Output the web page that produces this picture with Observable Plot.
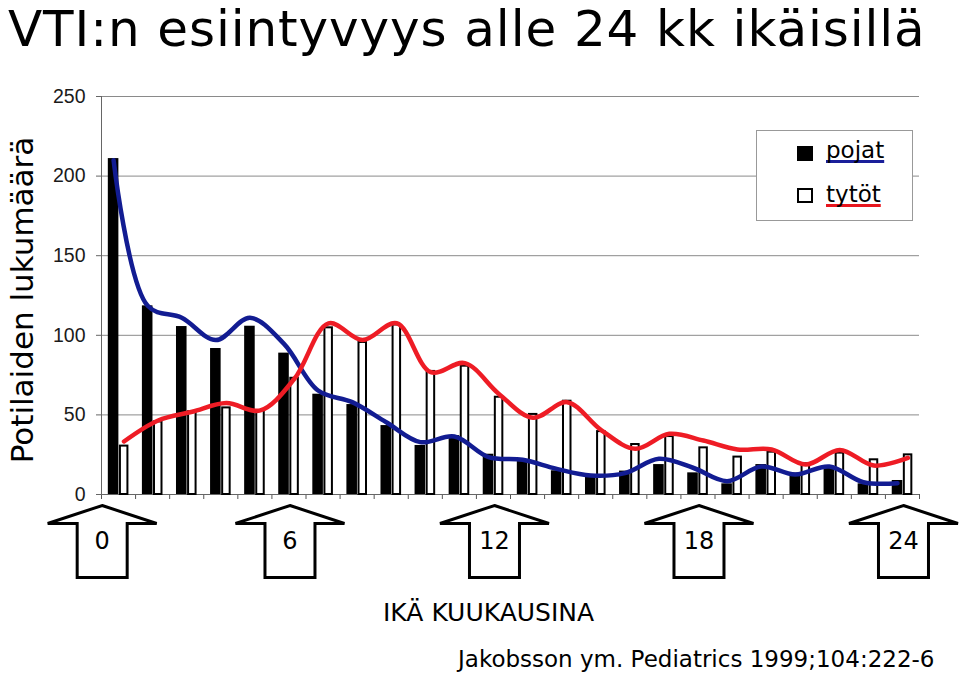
<!DOCTYPE html>
<html>
<head>
<meta charset="utf-8">
<script src="https://cdn.jsdelivr.net/npm/d3@7"></script>
<script src="https://cdn.jsdelivr.net/npm/@observablehq/plot@0.6"></script>
<style>
  body { margin: 0; background: #fff; }
  #wrap { position: relative; width: 959px; height: 675px; overflow: hidden; background: #fff; }
  .c { font-family: "DejaVu Sans", sans-serif; color: #000; position: absolute; white-space: nowrap; line-height: normal; }
  #chart { position: absolute; left: 0; top: 70px; }
  #chart g[aria-label="y-axis tick label"] { font-size: 19.5px !important; }
  .lg { text-decoration: underline; text-decoration-thickness: 3px; text-underline-offset: 2px; text-decoration-skip-ink: none; }
</style>
</head>
<body>
<div id="wrap">
  <div class="c" style="left:8px;top:0px;font-size:50px;letter-spacing:0.9px;">VTI:n esiintyvyys alle 24 kk ikäisillä</div>
  <div id="chart"></div>
  <div class="c" style="left:22px;top:300px;font-size:31px;transform:translate(-50%,-50%) rotate(-90deg);">Potilaiden lukumäärä</div>
  <div style="position:absolute;left:756px;top:130px;width:155px;height:89px;border:1px solid #999;background:#fff;"></div>
  <div style="position:absolute;left:797px;top:146px;width:16px;height:15px;background:#000;"></div>
  <div style="position:absolute;left:797px;top:188px;width:12px;height:11px;border:2px solid #000;background:#fff;"></div>
  <div class="c lg" style="left:826px;top:137px;font-size:23px;text-decoration-color:#1a1f9a;">pojat</div>
  <div class="c lg" style="left:826px;top:181px;font-size:23px;text-decoration-color:#e8161e;">tytöt</div>
  <div class="c" style="left:383px;top:598px;font-size:25px;">IKÄ KUUKAUSINA</div>
  <div class="c" style="left:458px;top:646px;font-size:23px;">Jakobsson ym. Pediatrics 1999;104:222-6</div>
</div>
<script>
// Age in months (group start)
const months = [0, 1, 2, 3, 4, 5, 6, 7, 8, 9, 10, 11, 12, 13, 14, 15, 16, 17, 18, 19, 20, 21, 22, 23];
// pojat (boys), black bars
const boys = [211, 118.5, 105.5, 91.7, 105.7, 88.8, 63, 56.5, 43.3, 30.8, 37, 25.3, 20.7, 14.9, 10.9, 14.7, 18.8, 13.6, 6.7, 18.8, 13.4, 16.8, 6.7, 8.8];
// tytöt (girls), white bars
const girls = [30.4, 45.6, 52, 54.4, 52.7, 73, 104.7, 95.5, 106.5, 77.3, 80.6, 61.1, 50.3, 58.6, 39.5, 31.4, 36.4, 29.3, 23.5, 26.6, 19.3, 26, 21.8, 24.9];
// smoothed trend curves
const boysTrend = [210, 118.5, 111, 97, 111, 94.6, 65.3, 58, 45.4, 32.9, 36.4, 23.5, 21.8, 16.1, 11.9, 13.4, 22.4, 16.8, 8.4, 17.6, 12.6, 17.6, 7.7, 7.1];
const girlsTrend = [33.3, 46.5, 52, 57.4, 52.8, 72.7, 107.5, 97, 107.6, 76.8, 82.5, 63.2, 48.2, 58, 40.5, 28.7, 38.1, 33.9, 28.3, 28.3, 18.8, 28, 18.2, 23];
// y tick values
const yTicks = [0, 50, 100, 150, 200, 250];
// arrow labels under the axis
const arrowMonths = [0, 6, 12, 18, 24];
const arrowLabels = ["0", "6", "12", "18", "24"];

const table = months.map((m, i) => ({
  month: m, boys: boys[i], girls: girls[i], boysTrend: boysTrend[i], girlsTrend: girlsTrend[i]
}));
const arrows = arrowMonths.map((m, i) => ({month: m, label: arrowLabels[i]}));
const boundaries = [...months, 24];

const arrowSymbol = {
  draw(ctx) {
    ctx.moveTo(0, 0);
    ctx.lineTo(54.5, 18);
    ctx.lineTo(25, 18);
    ctx.lineTo(25, 72);
    ctx.lineTo(-25, 72);
    ctx.lineTo(-25, 18);
    ctx.lineTo(-54.5, 18);
    ctx.closePath();
  }
};
const arrowX = d => Math.max(d.month - 0.47, 0.02);

const plot = Plot.plot({
  width: 959,
  height: 520,
  marginTop: 26,
  marginBottom: 96,
  marginLeft: 101,
  marginRight: 40,
  style: {fontFamily: "'Liberation Sans', Arial, sans-serif", fontSize: "19px", background: "white", overflow: "visible"},
  x: {type: "linear", domain: [0, 24]},
  y: {domain: [0, 250]},
  marks: [
    Plot.gridY(yTicks, {stroke: "#8a8a8a", strokeOpacity: 1}),
    Plot.axisY(yTicks, {tickSize: 5, tickPadding: 11, fontSize: 19.5, label: null, stroke: "#666", fill: "#1a1a1a"}),
    Plot.axisX(boundaries, {tickSize: 5, tickFormat: () => "", label: null, stroke: "#555"}),
    Plot.ruleX([0], {stroke: "#666"}),
    Plot.ruleY([0], {stroke: "#666"}),
    Plot.rectY(table, {x1: d => d.month + 0.2, x2: d => d.month + 0.51, y: "boys", fill: "black"}),
    Plot.rectY(table, {x1: d => d.month + 0.555, x2: d => d.month + 0.775, y: "girls", fill: "white", stroke: "black", strokeWidth: 2}),
    Plot.line(table, {x: d => d.month + 0.355, y: "boysTrend", stroke: "#121c92", strokeWidth: 4.5, curve: "catmull-rom"}),
    Plot.line(table, {x: d => d.month + 0.66, y: "girlsTrend", stroke: "#ee1c25", strokeWidth: 4.5, curve: "catmull-rom"}),
    Plot.dot(arrows, {x: arrowX, frameAnchor: "bottom", dy: 11, symbol: arrowSymbol, fill: "white", stroke: "black", strokeWidth: 3, strokeLinejoin: "miter"}),
    Plot.text(arrows, {x: arrowX, text: "label", frameAnchor: "bottom", dy: 54, fontSize: 24, fontFamily: "DejaVu Sans", fill: "black"})
  ]
});
document.getElementById("chart").appendChild(plot);
</script>
</body>
</html>
